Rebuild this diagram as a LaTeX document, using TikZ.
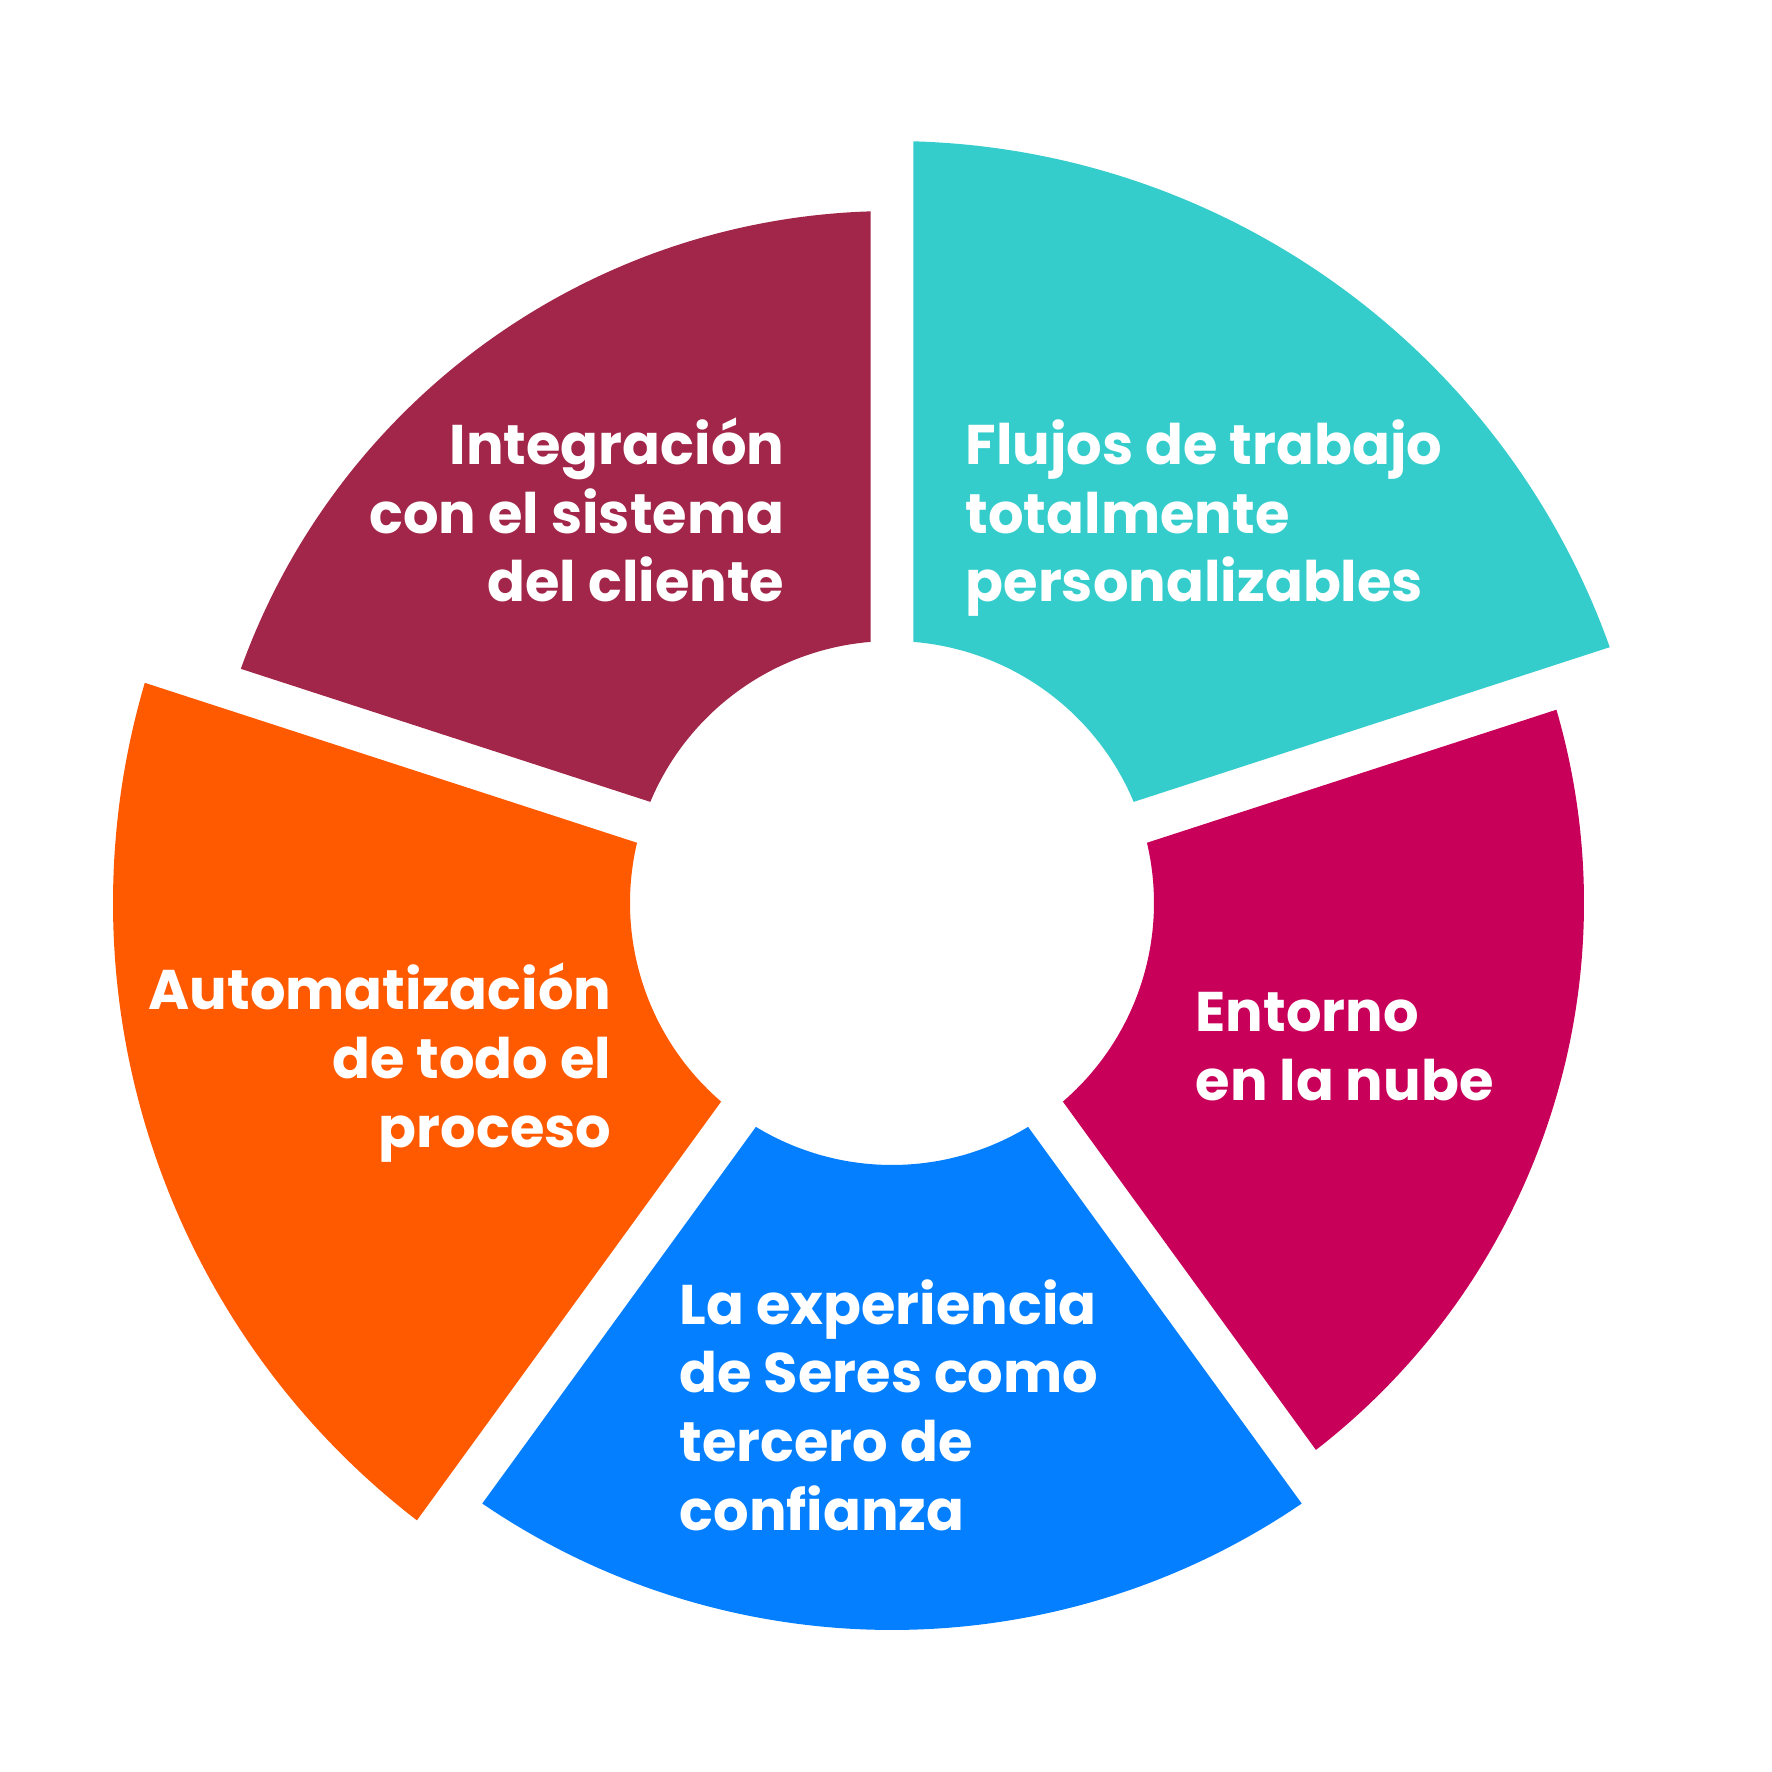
\documentclass[tikz,border=0pt]{standalone}
\usepackage{fontspec}
\setmainfont{Poppins}

\definecolor{flujos}{HTML}{35CCCC}
\definecolor{integra}{HTML}{A22649}
\definecolor{automat}{HTML}{FF5A00}
\definecolor{seres}{HTML}{037FFF}
\definecolor{nube}{HTML}{C8005A}

\tikzset{seglabel/.style={text=white,inner sep=0pt,font=\bfseries\fontsize{15.9}{19.5}\selectfont}}

\begin{document}
\begin{tikzpicture}
\useasboundingbox[fill=white] (-8.92,-8.69) rectangle (8.80,9.03);
\def\ri{2.62}
\def\gap{0.215}
% ring segments, gaps of constant width
\foreach \a/\r/\c in {18/7.62/flujos,90/6.92/integra,162/7.79/automat,234/7.27/seres,306/6.92/nube} {
  \pgfmathsetmacro\bi{asin(\gap/\ri)}
  \pgfmathsetmacro\bo{asin(\gap/\r)}
  \fill[\c] (\a+\bi:\ri) -- (\a+\bo:\r) arc[start angle=\a+\bo,end angle=\a+72-\bo,radius=\r]
    -- (\a+72-\bi:\ri) arc[start angle=\a+72-\bi,end angle=\a+\bi,radius=\ri] -- cycle;
}
% labels, anchored at the baseline of the last line
\node[seglabel,align=right,anchor=base east] (integra) at (-1.07,3.01) {Integración\\con el sistema\\del cliente};
\node[seglabel,align=left,anchor=base west] (flujos) at (0.73,3.01) {Flujos de trabajo\\totalmente\\personalizables};
\node[seglabel,align=left,anchor=base west] (nube) at (3.03,-1.97) {Entorno\\en la nube};
\node[seglabel,align=right,anchor=base east] (automat) at (-2.80,-2.44) {Automatización\\de todo el\\proceso};
\node[seglabel,align=left,anchor=base west] (seres) at (-2.13,-6.27) {La experiencia\\de Seres como\\tercero de\\confianza};
\end{tikzpicture}
\end{document}
